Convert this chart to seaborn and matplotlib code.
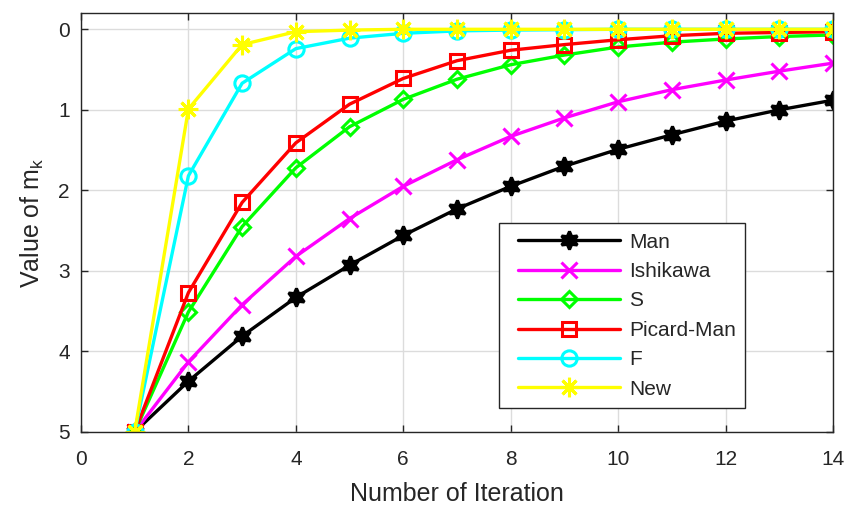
import numpy as np
import pandas as pd
import matplotlib
matplotlib.use("Agg")
import matplotlib.pyplot as plt
from matplotlib.lines import Line2D
from matplotlib.legend_handler import HandlerLine2D
import seaborn as sns

iterations = list(range(1, 15))
man = [5.0, 4.37, 3.81, 3.33, 2.93, 2.56, 2.23, 1.95, 1.70, 1.49, 1.31, 1.14, 1.00, 0.88]
ishikawa = [5.0, 4.13, 3.42, 2.82, 2.35, 1.95, 1.62, 1.33, 1.10, 0.90, 0.75, 0.63, 0.52, 0.42]
s_iter = [5.0, 3.51, 2.45, 1.72, 1.21, 0.87, 0.62, 0.44, 0.32, 0.22, 0.16, 0.12, 0.09, 0.07]
picard_man = [5.0, 3.27, 2.15, 1.41, 0.93, 0.61, 0.39, 0.26, 0.19, 0.13, 0.08, 0.05, 0.04, 0.03]
f_iter = [5.0, 1.82, 0.67, 0.24, 0.11, 0.05, 0.02, 0.01, 0.005, 0.0, 0.0, 0.0, 0.0, 0.0]
new_iter = [5.0, 0.99, 0.19, 0.03, 0.01, 0.0, 0.0, 0.0, 0.0, 0.0, 0.0, 0.0, 0.0, 0.0]

names = ["Man", "Ishikawa", "S", "Picard-Man", "F", "New"]
series = [man, ishikawa, s_iter, picard_man, f_iter, new_iter]
colors = ["#000000", "#ff00ff", "#00ff00", "#ff0000", "#00ffff", "#ffff00"]
markers = [(6, 1, 0), "x", "D", "s", "o", (8, 2, 0)]
msizes = [13, 11, 8.5, 10, 11, 14]
filled = [True, True, False, False, False, True]

sns.set_theme(style="whitegrid")
plt.rcParams["font.family"] = ["Liberation Sans", "DejaVu Sans"]

fig = plt.figure(figsize=(8.46, 5.07), dpi=100)
ax = fig.add_axes([0.0957, 0.148, 0.889, 0.826])

for name, vals, c, m, ms, fl in zip(names, series, colors, markers, msizes, filled):
    df = pd.DataFrame({"x": iterations, "y": vals})
    kw = dict(markerfacecolor=c) if fl else dict(markerfacecolor="none")
    sns.lineplot(data=df, x="x", y="y", ax=ax, color=c, linewidth=2.4,
                 marker=m, markersize=ms, markeredgecolor=c, markeredgewidth=2.2,
                 label=name, **kw)

ax.set_xlim(0, 14)
ax.set_ylim(5, -0.2)
ax.set_xticks(range(0, 15, 2))
ax.set_yticks(range(0, 6))
ax.grid(True, color="#dcdcdc", linewidth=1)
for sp in ax.spines.values():
    sp.set_visible(True)
    sp.set_color("#262626")
    sp.set_linewidth(1.0)
ax.tick_params(axis="both", direction="in", length=5, width=1, color="#262626",
               labelsize=15, top=True, right=True, bottom=True, left=True,
               labelcolor="#262626")
ax.tick_params(axis="x", pad=13)
ax.tick_params(axis="y", pad=8)
ax.set_xlabel("Number of Iteration", fontsize=18, color="#262626", labelpad=9)
ax.set_ylabel("Value of m$_\\mathregular{k}$", fontsize=18, color="#262626", labelpad=9)

leg = ax.legend(loc="lower right", bbox_to_anchor=(0.883, 0.057), borderaxespad=0,
                fontsize=15, handlelength=5.4, handletextpad=0.4, frameon=True,
                fancybox=False, edgecolor="#262626", framealpha=1, borderpad=0.45,
                labelspacing=0.5, handler_map={Line2D: HandlerLine2D(xpad=0.5)})
leg.get_frame().set_linewidth(1.0)

fig.savefig("out.png", dpi=100)
